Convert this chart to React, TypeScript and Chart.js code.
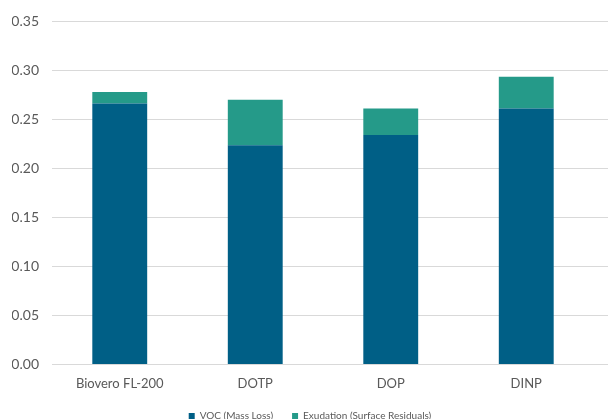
import React, { useEffect, useRef } from "react";
import { Chart, registerables } from "chart.js";

Chart.register(...registerables);

const categories = ["Biovero FL-200", "DOTP", "DOP", "DINP"];
const vocMassLoss = [0.266, 0.2235, 0.234, 0.261];
const exudation = [0.012, 0.0465, 0.027, 0.0325];
const seriesNames = ["VOC (Mass Loss)", "Exudation (Surface Residuals)"];
const yMin = 0;
const yMax = 0.35;
const yStep = 0.05;

const FONT = "Lato, 'Open Sans', sans-serif";

const extGrid = {
  id: "extGrid",
  beforeDatasetsDraw(chart: any) {
    const y = chart.scales.y;
    const ctx = chart.ctx;
    ctx.save();
    ctx.strokeStyle = "#D9D9D9";
    ctx.lineWidth = 1;
    y.ticks.forEach((t: any) => {
      const py = Math.round(y.getPixelForValue(t.value)) + 0.5;
      ctx.beginPath();
      ctx.moveTo(chart.chartArea.left, py);
      ctx.lineTo(chart.width, py);
      ctx.stroke();
    });
    ctx.restore();
  },
};

export default function App() {
  const ref = useRef<HTMLCanvasElement | null>(null);
  useEffect(() => {
    if (!ref.current) return;
    const chart = new Chart(ref.current, {
      type: "bar",
      data: {
        labels: categories,
        datasets: [
          {
            label: seriesNames[0],
            data: vocMassLoss,
            backgroundColor: "#005F86",
            categoryPercentage: 1,
            barPercentage: 0.405,
          },
          {
            label: seriesNames[1],
            data: exudation,
            backgroundColor: "#259A89",
            categoryPercentage: 1,
            barPercentage: 0.405,
          },
        ],
      },
      plugins: [extGrid],
      options: {
        animation: false,
        responsive: true,
        maintainAspectRatio: false,
        layout: { padding: { top: 20, left: 12, right: 0, bottom: 0 } },
        scales: {
          x: {
            stacked: true,
            grid: { display: false, drawTicks: false },
            border: { display: false },
            ticks: { color: "#595959", font: { family: FONT, size: 13 }, padding: 12, maxRotation: 0 },
            afterFit: (s: any) => {
              s.height = 28;
            },
          },
          y: {
            stacked: true,
            min: yMin,
            max: yMax,
            grid: { display: false, drawTicks: false },
            border: { display: false },
            ticks: {
              stepSize: yStep,
              padding: 13,
              color: "#595959",
              font: { family: FONT, size: 14 },
              callback: (v: any) => Number(v).toFixed(2),
            },
            afterFit: (s: any) => {
              s.width = 40;
            },
          },
          yR: {
            position: "right",
            grid: { display: false, drawTicks: false },
            border: { display: false },
            ticks: { display: false },
            afterFit: (s: any) => {
              s.width = 14;
            },
          },
        },
        plugins: {
          tooltip: { enabled: false },
          legend: {
            position: "bottom",
            labels: {
              boxWidth: 6,
              boxHeight: 6,
              padding: 19,
              color: "#595959",
              font: { family: FONT, size: 10 },
            },
          },
        },
      },
    });
    return () => chart.destroy();
  }, []);
  return (
    <div style={{ position: "fixed", left: 0, top: 0, width: 608, height: 419, overflow: "hidden", background: "#fff" }}>
      <div style={{ position: "relative", width: 608, height: 431 }}>
        <canvas ref={ref} />
      </div>
    </div>
  );
}
